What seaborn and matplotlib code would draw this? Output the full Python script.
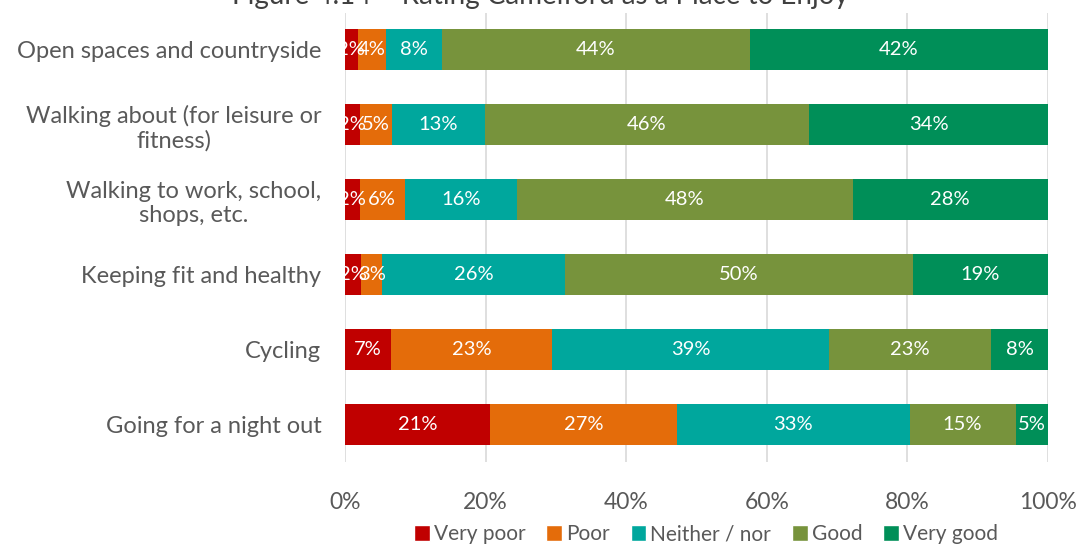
import numpy as np
import pandas as pd
import matplotlib
matplotlib.use("Agg")
import matplotlib.pyplot as plt
import seaborn as sns
from matplotlib.patches import Patch

activities = ["Open spaces and countryside",
              "Walking about (for leisure or\nfitness)",
              "Walking to work, school,\nshops, etc.",
              "Keeping fit and healthy",
              "Cycling",
              "Going for a night out"]
ratings = ["Very poor", "Poor", "Neither / nor", "Good", "Very good"]
very_poor = [1.8, 2.1, 2.1, 2.3, 6.6, 20.6]
poor = [4.0, 4.6, 6.4, 3.0, 22.9, 26.6]
neither = [8.0, 13.2, 15.9, 26.0, 39.4, 33.1]
good = [43.8, 46.1, 47.8, 49.5, 23.0, 15.1]
very_good = [42.4, 34.0, 27.8, 19.2, 8.1, 4.6]
colors = ["#c00000", "#e46c0a", "#00a79d", "#77933c", "#008f58"]

df = pd.DataFrame({"activity": activities, "Very poor": very_poor, "Poor": poor,
                   "Neither / nor": neither, "Good": good, "Very good": very_good})
cum = df[ratings].cumsum(axis=1)

sns.set_theme(style="white")
plt.rcParams["font.family"] = ["Lato", "DejaVu Sans"]
grey = "#595959"

fig, ax = plt.subplots(figsize=(10.79, 5.44), dpi=100)
fig.subplots_adjust(left=345/1079, right=1048/1079, top=1-12.5/544, bottom=1-461.5/544)

ax.set_axisbelow(True)
ax.xaxis.grid(True, color="#d9d9d9", linewidth=1.2)

# stacked bars: draw cumulative totals from the right-most segment back
for r, c in zip(ratings[::-1], colors[::-1]):
    sns.barplot(x=cum[r], y=df["activity"], orient="h", color=c, width=0.55,
                saturation=1, ax=ax, linewidth=0)

for r in ratings:
    for i in range(len(df)):
        v = df[r][i]
        ax.text(cum[r][i] - v / 2, i, f"{v:.0f}%", ha="center", va="center",
                color="white", fontsize=14.5)

ax.set_xlim(0, 100)
ax.set_ylim(5.5, -0.5)
ax.set_xticks(np.arange(0, 101, 20))
ax.set_xticklabels([f"{t}%" for t in range(0, 101, 20)])
ax.tick_params(axis="x", labelsize=16.5, labelcolor=grey, pad=22, length=0)
ax.tick_params(axis="y", labelsize=17, labelcolor=grey, pad=17, length=0)
for lab in ax.get_yticklabels():
    lab.set_multialignment("center")
ax.set_xlabel("")
ax.set_ylabel("")
for s in ax.spines.values():
    s.set_visible(False)

handles = [Patch(facecolor=c, label=r) for r, c in zip(ratings, colors)]
leg = fig.legend(handles=handles, loc="lower center", bbox_to_anchor=(706/1079, -0.035),
                 ncol=5, frameon=False, fontsize=15, handlelength=0.75, handleheight=0.75,
                 handletextpad=0.2, columnspacing=1.0)
for t in leg.get_texts():
    t.set_color(grey)

fig.text(540/1079, 1 - 4/544, "Figure 4.14 – Rating Camelford as a Place to Enjoy",
         ha="center", va="baseline", fontsize=20, color="#404040")

fig.savefig("out.png", dpi=100)
